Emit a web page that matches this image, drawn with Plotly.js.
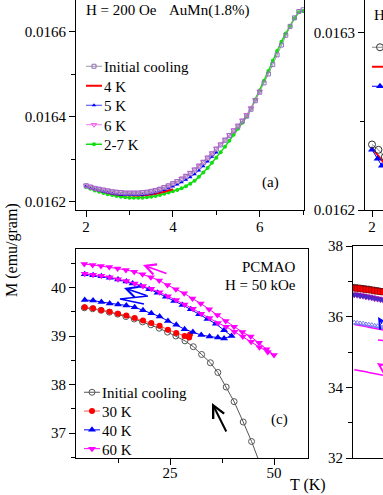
<!DOCTYPE html>
<html>
<head>
<meta charset="utf-8">
<script src="https://cdn.plot.ly/plotly-3.0.1.min.js"></script>
<style>html,body{margin:0;padding:0;background:#fff;}#chart{width:383px;height:495px;}</style>
</head>
<body>
<div id="chart"></div>
<script>
// ---------- Panel (a): AuMn(1.8%), H = 200 Oe ----------
const aT = [2.0,2.1,2.2,2.3,2.4,2.5,2.6,2.7,2.8,2.9,3.0,3.1,3.2,3.3,3.4,3.5,3.6,3.7,3.8,3.9,4.0,4.1,4.2,4.3,4.4,4.5,4.6,4.7,4.8,4.9,5.0,5.1,5.2,5.3,5.4,5.5,5.6,5.7,5.8,5.9,6.0,6.1,6.2,6.3,6.4,6.5,6.6,6.7,6.8,6.9,7.0];
const aInitial = [0.016238,0.016235,0.016232,0.016230,0.016228,0.016226,0.016224,0.016223,0.016222,0.016221,0.016221,0.016221,0.016221,0.016222,0.016223,0.016225,0.016227,0.016230,0.016234,0.016238,0.016243,0.016248,0.016254,0.016260,0.016267,0.016275,0.016284,0.016293,0.016303,0.016313,0.016324,0.016334,0.016345,0.016356,0.016367,0.016378,0.016390,0.016402,0.016418,0.016438,0.016458,0.016480,0.016501,0.016523,0.016546,0.016569,0.016592,0.016613,0.016633,0.016648,0.016652];
const aT4 = [2.0,2.2,2.4,2.6,2.8,3.0,3.2,3.4,3.6,3.8,4.0];
const a4K = [0.016236,0.016229,0.016224,0.016219,0.016216,0.016215,0.016215,0.016216,0.016219,0.016224,0.016230];
const aT5 = [2.0,2.1,2.2,2.3,2.4,2.5,2.6,2.7,2.8,2.9,3.0,3.1,3.2,3.3,3.4,3.5,3.6,3.7,3.8,3.9,4.0,4.1,4.2,4.3,4.4,4.5,4.6,4.7,4.8,4.9,5.0];
const a5K = [0.016237,0.016233,0.016230,0.016227,0.016224,0.016222,0.016220,0.016218,0.016217,0.016216,0.016216,0.016216,0.016216,0.016217,0.016218,0.016220,0.016222,0.016225,0.016228,0.016232,0.016236,0.016241,0.016246,0.016252,0.016258,0.016265,0.016274,0.016284,0.016295,0.016306,0.016316];
const aT6 = [2.0,2.1,2.2,2.3,2.4,2.5,2.6,2.7,2.8,2.9,3.0,3.1,3.2,3.3,3.4,3.5,3.6,3.7,3.8,3.9,4.0,4.1,4.2,4.3,4.4,4.5,4.6,4.7,4.8,4.9,5.0,5.1,5.2,5.3,5.4,5.5,5.6,5.7,5.8,5.9,6.0];
const a6K = [0.016239,0.016236,0.016233,0.016231,0.016229,0.016227,0.016225,0.016224,0.016223,0.016222,0.016222,0.016222,0.016222,0.016223,0.016224,0.016226,0.016228,0.016231,0.016235,0.016239,0.016244,0.016249,0.016255,0.016262,0.016269,0.016277,0.016286,0.016295,0.016305,0.016315,0.016326,0.016336,0.016347,0.016358,0.016369,0.016380,0.016392,0.016405,0.016421,0.016440,0.016460];
const a27K = [0.016235,0.016231,0.016227,0.016224,0.016221,0.016218,0.016216,0.016214,0.016212,0.016211,0.016210,0.016210,0.016210,0.016210,0.016211,0.016212,0.016214,0.016216,0.016219,0.016222,0.016225,0.016228,0.016232,0.016237,0.016243,0.016250,0.016259,0.016269,0.016280,0.016292,0.016304,0.016317,0.016330,0.016344,0.016358,0.016372,0.016386,0.016401,0.016420,0.016441,0.016462,0.016485,0.016508,0.016532,0.016555,0.016577,0.016596,0.016614,0.016632,0.016646,0.016649];
const aYTicks = [0.0162,0.0164,0.0166];
const aXTicks = [2,4,6];

// ---------- Panel (b) (cropped at right edge) ----------
const bTInit = [2.0,2.15,2.3];
const bInitial = [0.016237,0.016234,0.016230];
const bT4 = [2.0,2.3];
const b4K = [0.016235,0.016226];
const bT5 = [2.0,2.13,2.23];
const b5K = [0.016234,0.016229,0.016225];
const bYTicks = [0.0162,0.0163];
const bXTicks = [2];

// ---------- Panel (c): PCMAO, H = 50 kOe ----------
const cTInit = [4.4,6.4,8.4,10.4,12.4,14.4,16.4,18.4,20.4,22.4,24.4,26.4,28.6,30.6,32.6,34.7,36.5,38.5,40.4,42.6,44.6,46.6,48.6];
const cInitial = [39.58,39.56,39.53,39.49,39.45,39.40,39.35,39.29,39.23,39.16,39.08,39.00,38.90,38.78,38.62,38.45,38.25,37.95,37.65,37.23,36.83,36.38,35.85];
const cT30 = [4.5,6.5,8.5,10.5,12.5,14.5,16.5,18.5,20.5,22.5,24.5,26.5,28.5,29.6,29.8];
const c30K = [39.59,39.57,39.53,39.50,39.46,39.42,39.37,39.32,39.27,39.21,39.13,39.06,39.00,38.97,39.03];
const cT40 = [4.5,6.5,8.5,10.5,12.5,14.5,16.5,18.5,20.5,22.5,24.5,26.5,28.5,30.5,32.5,34.5,36.5,38.0,39.8,38.0,36.0,34.0,32.0,30.0,28.0,26.0,24.0,22.0,20.0,18.0,16.0,14.5,12.5,10.5,8.5,6.5,4.5];
const c40K = [39.74,39.73,39.70,39.67,39.65,39.63,39.59,39.53,39.47,39.40,39.31,39.23,39.14,39.08,39.02,38.99,38.97,38.95,39.00,39.12,39.25,39.35,39.45,39.55,39.64,39.72,39.81,39.89,39.96,40.03,40.08,40.12,40.16,40.20,40.23,40.25,40.27];
const cT60 = [4.5,6.5,8.5,10.5,12.5,14.5,16.5,18.5,20.5,22.5,24.5,26.5,28.5,30.5,32.5,34.5,36.5,38.5,40.5,42.5,44.5,46.5,48.5,50.0,48.2,46.4,44.4,42.4,40.4,38.4,36.4,34.4,32.4,30.4,28.4,26.4,24.4,22.4,20.4,18.4,16.4,14.4,12.4,10.4,8.4,6.4,4.4];
const c60K = [40.28,40.26,40.24,40.21,40.17,40.13,40.08,40.03,39.97,39.90,39.82,39.74,39.65,39.56,39.46,39.37,39.27,39.19,39.09,38.99,38.88,38.77,38.67,38.61,38.73,38.86,38.99,39.08,39.19,39.31,39.43,39.55,39.67,39.77,39.88,39.96,40.05,40.14,40.21,40.27,40.32,40.36,40.39,40.42,40.44,40.46,40.48];
const cYTicks = [37,38,39,40];
const cXTicks = [25,50];

// ---------- Panel (d) (cropped at right edge) ----------
const dT = [0.3,1.0,1.7,2.4,3.1,3.8,4.5,5.2,5.9,6.6,7.3];
const dInitial = [36.83,36.82,36.81,36.80,36.79,36.78,36.76,36.75,36.74,36.72,36.71];
const dRed = [36.81,36.80,36.80,36.78,36.77,36.76,36.75,36.73,36.72,36.71,36.70];
const dBlue = [36.63,36.62,36.60,36.59,36.57,36.56,36.54,36.52,36.51,36.49,36.47];
const dLav = [35.83,35.82,35.81,35.80,35.78,35.77,35.76,35.74,35.73,35.71,35.70];
const dMagA = [35.78,35.77,35.75,35.73,35.72,35.70,35.68,35.67,35.65,35.63,35.62];
const dMagB = [34.50,34.49,34.47,34.45,34.44,34.42,34.40,34.39,34.37,34.35,34.34];
const dYTicks = [32,34,36,38];

// ---------- helpers ----------
const W = 383, H = 495;
const FONT = 'Liberation Serif';
const px = v => v / W;
const py = v => 1 - v / H;

function axis(o) {
  return Object.assign({
    showline: true, linecolor: '#000', linewidth: 1,
    ticks: 'outside', ticklen: 6, tickwidth: 1, tickcolor: '#000',
    showgrid: false, zeroline: false, fixedrange: true,
    tickfont: {family: FONT, size: 15, color: '#000'}
  }, o);
}
function minor(d, t0) {
  return {ticks: 'outside', ticklen: 4, tickwidth: 1, tickcolor: '#000', dtick: d, tick0: t0, showgrid: false};
}

const traces = [
  // panel (a)
  {x: aT, y: a27K, name: '2-7 K', legendrank: 5, mode: 'lines+markers', xaxis: 'x', yaxis: 'y',
   line: {color: '#11dd11', width: 1.5}, marker: {symbol: 'circle', size: 4, color: '#11dd11'}},
  {x: aT4, y: a4K, name: '4 K', legendrank: 2, mode: 'lines', xaxis: 'x', yaxis: 'y',
   line: {color: '#ff0000', width: 2}},
  {x: aT5, y: a5K, name: '5 K', legendrank: 3, mode: 'lines+markers', xaxis: 'x', yaxis: 'y',
   line: {color: '#4444ff', width: 1}, marker: {symbol: 'triangle-up', size: 4, color: '#0000ff'}},
  {x: aT6, y: a6K, name: '6 K', legendrank: 4, mode: 'lines+markers', xaxis: 'x', yaxis: 'y',
   line: {color: '#ee77ee', width: 1}, marker: {symbol: 'triangle-down-open', size: 5, color: '#ee66ee'}},
  {x: aT, y: aInitial, name: 'Initial cooling', legendrank: 1, mode: 'lines+markers', xaxis: 'x', yaxis: 'y',
   line: {color: '#999999', width: 1}, marker: {symbol: 'square-open', size: 4, color: '#9070c0'}},

  // panel (b)
  {x: bT4, y: b4K, name: '4 K', legend: 'legend2', legendrank: 2, mode: 'lines', xaxis: 'x2', yaxis: 'y2',
   line: {color: '#ff0000', width: 2}},
  {x: bT5, y: b5K, name: '5 K', legend: 'legend2', legendrank: 3, mode: 'lines+markers', xaxis: 'x2', yaxis: 'y2',
   line: {color: '#0000ff', width: 1}, marker: {symbol: 'triangle-up', size: 7, color: '#0000ff'}},
  {x: bTInit, y: bInitial, name: 'Initial cooling', legend: 'legend2', legendrank: 1, mode: 'lines+markers', xaxis: 'x2', yaxis: 'y2',
   line: {color: '#888888', width: 1}, marker: {symbol: 'circle-open', size: 7, color: '#333333'}},

  // panel (c)
  {x: cTInit, y: cInitial, name: 'Initial cooling', legend: 'legend3', legendrank: 1, mode: 'lines+markers', xaxis: 'x3', yaxis: 'y3',
   line: {color: '#555555', width: 1}, marker: {symbol: 'circle-open', size: 6, color: '#555555', line: {width: 1}}},
  {x: cT30, y: c30K, name: '30 K', legend: 'legend3', legendrank: 2, mode: 'lines+markers', xaxis: 'x3', yaxis: 'y3',
   line: {color: '#ff5555', width: 1}, marker: {symbol: 'circle', size: 6, color: '#ff0000'}},
  {x: cT40, y: c40K, name: '40 K', legend: 'legend3', legendrank: 3, mode: 'lines+markers', xaxis: 'x3', yaxis: 'y3',
   line: {color: '#0000ff', width: 1}, marker: {symbol: 'triangle-up', size: 7, color: '#0000ff'}},
  {x: cT60, y: c60K, name: '60 K', legend: 'legend3', legendrank: 4, mode: 'lines+markers', xaxis: 'x3', yaxis: 'y3',
   line: {color: '#ff00ff', width: 1}, marker: {symbol: 'triangle-down', size: 7, color: '#ff00ff'}},

  // panel (d)
  {x: dT, y: dMagB, mode: 'lines', showlegend: false, xaxis: 'x4', yaxis: 'y4', line: {color: '#ff00ff', width: 1.5}},
  {x: dT, y: dMagA, mode: 'lines', showlegend: false, xaxis: 'x4', yaxis: 'y4', line: {color: '#ff00ff', width: 1.5}},
  {x: dT, y: dLav, mode: 'markers', showlegend: false, xaxis: 'x4', yaxis: 'y4',
   marker: {symbol: 'triangle-up-open', size: 5, color: '#7777ff'}},
  {x: dT, y: dBlue, mode: 'lines+markers', showlegend: false, xaxis: 'x4', yaxis: 'y4',
   line: {color: '#0000ff', width: 1}, marker: {symbol: 'triangle-down', size: 7, color: '#3333cc', line: {color: '#aa00aa', width: 0.5}}},
  {x: dT, y: dInitial, mode: 'markers', showlegend: false, xaxis: 'x4', yaxis: 'y4',
   marker: {symbol: 'circle-open', size: 6, color: '#333333'}},
  {x: dT, y: dRed, mode: 'lines+markers', showlegend: false, xaxis: 'x4', yaxis: 'y4',
   line: {color: '#ff0000', width: 1}, marker: {symbol: 'square', size: 6, color: '#ff0000', line: {color: '#660000', width: 0.5}}}
];

const legendBase = {
  xanchor: 'left', yanchor: 'top', bgcolor: 'rgba(0,0,0,0)', borderwidth: 0,
  font: {family: FONT, size: 15, color: '#000'}, itemwidth: 30, tracegroupgap: 0,
  itemclick: false, itemdoubleclick: false
};

const arrowBase = {xref: 'paper', yref: 'paper', axref: 'pixel', ayref: 'pixel', text: '', showarrow: true, arrowhead: 5};
function label(text, x, y, o) {
  return Object.assign({text: text, x: px(x), y: py(y), xref: 'paper', yref: 'paper', showarrow: false,
    xanchor: 'center', yanchor: 'middle', borderpad: 0,
    font: {family: FONT, size: 15, color: '#000'}}, o || {});
}

const layout = {
  width: W, height: H,
  margin: {l: 0, r: 0, t: 0, b: 0, pad: 0, autoexpand: false},
  paper_bgcolor: '#fff', plot_bgcolor: 'rgba(0,0,0,0)',
  showlegend: true,
  font: {family: FONT, size: 15, color: '#000'},
  // panel (a)
  xaxis: axis({domain: [px(76), px(304)], range: [1.767, 7.02], anchor: 'y', ticklabelstandoff: -3,
    tickmode: 'array', tickvals: aXTicks, minor: minor(1, 1)}),
  yaxis: axis({domain: [py(210), 1], range: [0.016181, 0.016675], anchor: 'x', mirror: true,
    tickmode: 'array', tickvals: aYTicks, tickformat: '.4f', minor: minor(0.0001, 0.0161)}),
  // panel (b)
  xaxis2: axis({domain: [px(365), 1], range: [1.837, 2.256], anchor: 'y2', ticklabelstandoff: -3,
    tickmode: 'array', tickvals: bXTicks}),
  yaxis2: axis({domain: [py(210), 1], range: [0.0162, 0.0163186], anchor: 'x2',
    tickmode: 'array', tickvals: bYTicks, tickformat: '.4f', minor: minor(0.00005, 0.0162)}),
  // panel (c)
  xaxis3: axis({domain: [px(76), px(308)], range: [2.40, 58.17], anchor: 'y3', mirror: true, ticklabelstandoff: -5,
    tickmode: 'array', tickvals: cXTicks, minor: minor(12.5, 0)}),
  yaxis3: axis({domain: [py(458), py(249)], range: [36.49, 40.79], anchor: 'x3', mirror: true,
    tickmode: 'array', tickvals: cYTicks, minor: minor(0.5, 36)}),
  // panel (d)
  xaxis4: axis({domain: [px(353), 1], range: [0, 7.2], anchor: 'y4', mirror: true, showticklabels: false, ticks: ''}),
  yaxis4: axis({domain: [py(458), py(246)], range: [32, 38], anchor: 'x4', mirror: true,
    tickmode: 'array', tickvals: dYTicks, minor: minor(1, 32)}),

  legend: Object.assign({}, legendBase, {x: px(64), y: py(50)}),
  legend2: Object.assign({}, legendBase, {x: px(350), y: py(31)}),
  legend3: Object.assign({}, legendBase, {x: px(62), y: py(376)}),

  annotations: [
    label('H = 200 Oe', 85, 10, {xanchor: 'left'}),
    label('AuMn(1.8%)', 168, 10, {xanchor: 'left'}),
    label('(a)', 270, 183),
    label('H', 373, 15, {xanchor: 'left'}),
    label('PCMAO', 297, 267, {xanchor: 'right'}),
    label('H = 50 kOe', 297, 285, {xanchor: 'right'}),
    label('(c)', 279, 419),
    label('M (emu/gram)', 12, 250, {textangle: -90, font: {family: FONT, size: 16, color: '#000'}}),
    label('T (K)', 308, 485, {font: {family: FONT, size: 16, color: '#000'}}),
    // arrows in (c)
    Object.assign({}, arrowBase, {x: px(143), y: py(265), ax: 25, ay: 9, arrowcolor: '#ff00ff', arrowwidth: 1.5, arrowsize: 1.4}),
    Object.assign({}, arrowBase, {x: px(124), y: py(288), ax: 24, ay: 8, arrowcolor: '#0000ff', arrowwidth: 1.5, arrowsize: 1.4}),
    Object.assign({}, arrowBase, {x: px(212), y: py(403), ax: 15, ay: 30, arrowcolor: '#000', arrowwidth: 2, arrowsize: 1.2}),
    // arrows in (d)
    Object.assign({}, arrowBase, {x: px(378), y: py(317), ax: 17, ay: 8, arrowcolor: '#0000ff', arrowwidth: 1.5, arrowsize: 1.3}),
    Object.assign({}, arrowBase, {x: px(377), y: py(363), ax: 23, ay: 4, arrowcolor: '#ff00ff', arrowwidth: 1.5, arrowsize: 1.3})
  ],
  shapes: [
    {type: 'path', xref: 'paper', yref: 'paper',
     path: 'M' + px(148) + ',' + py(296) + ' L' + px(120) + ',' + py(299) + ' L' + px(144) + ',' + py(304),
     line: {color: '#0000ff', width: 1.5}},
    {type: 'line', xref: 'paper', yref: 'paper', x0: px(378), y0: py(340), x1: px(390), y1: py(341),
     line: {color: '#ff00ff', width: 1.5}}
  ]
};

// Compact the legend entries: shorter sample line and tighter row spacing, as in the original figure.
function compactLegend(cls, spacing) {
  const g = document.querySelector('g.' + cls);
  if (!g) return;
  const items = g.querySelectorAll('g.traces');
  let y0 = null;
  items.forEach((it, i) => {
    const m = /translate\(\s*([-\d.e]+)[ ,]+([-\d.e]+)\s*\)/.exec(it.getAttribute('transform') || '');
    if (m) {
      const x = parseFloat(m[1]), y = parseFloat(m[2]);
      if (y0 === null) y0 = y;
      it.setAttribute('transform', 'translate(' + x + ',' + (y0 + i * spacing) + ')');
    }
    it.querySelectorAll('path.js-line').forEach(p => p.setAttribute('d', 'M22,0h16'));
    it.querySelectorAll('g.legendpoints path').forEach(p => p.setAttribute('transform', 'translate(30,0)'));
  });
}

Plotly.newPlot('chart', traces, layout, {displayModeBar: false, staticPlot: true}).then(() => {
  compactLegend('legend', 19.5);
  compactLegend('legend2', 19.5);
  compactLegend('legend3', 18.8);
});
</script>
</body>
</html>
